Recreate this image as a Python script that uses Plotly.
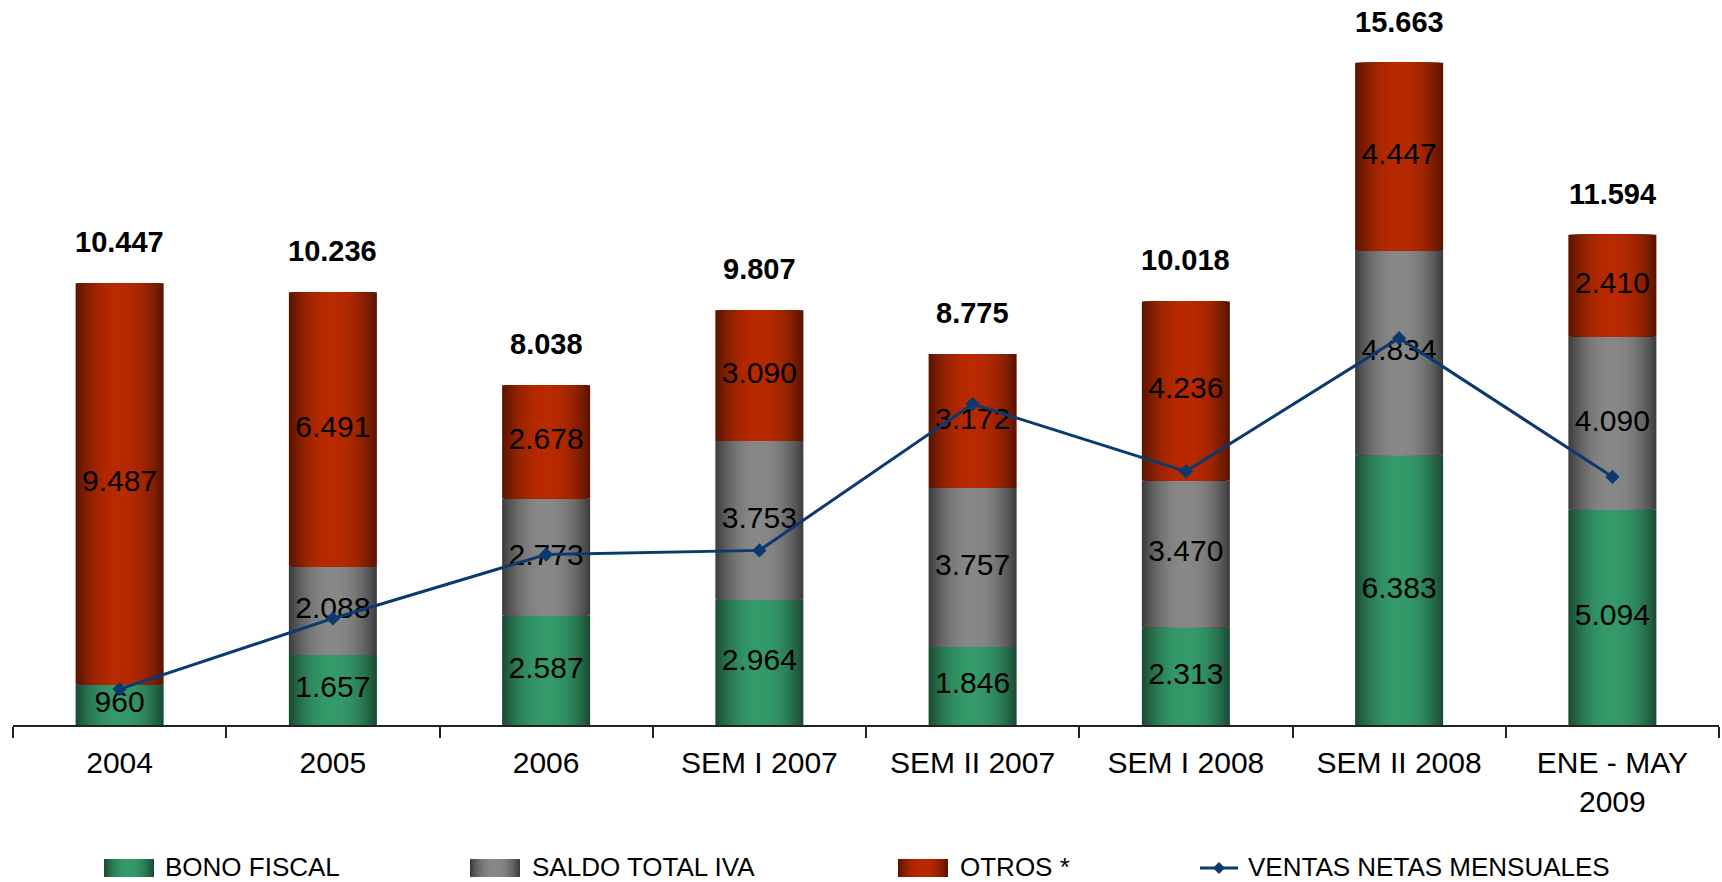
import plotly.graph_objects as go

# ---------------- data ----------------
categories = ["2004", "2005", "2006", "SEM I 2007", "SEM II 2007",
              "SEM I 2008", "SEM II 2008", "ENE - MAY<br>2009"]
bono_fiscal = [960, 1657, 2587, 2964, 1846, 2313, 6383, 5094]
saldo_total_iva = [0, 2088, 2773, 3753, 3757, 3470, 4834, 4090]
otros = [9487, 6491, 2678, 3090, 3172, 4236, 4447, 2410]
totales = [10447, 10236, 8038, 9807, 8775, 10018, 15663, 11594]
ventas_netas_mensuales = [850, 2520, 4030, 4130, 7590, 6000, 9150, 5870]

series_names = ["BONO FISCAL", "SALDO TOTAL IVA", "OTROS *"]
line_name = "VENTAS NETAS MENSUALES"

# ---------------- style ----------------
FONT = "Liberation Sans, Arial, sans-serif"
EDGE = [(26, 72, 50), (58, 58, 58), (85, 20, 0)]
CENTER = [(52, 154, 106), (136, 136, 136), (184, 42, 0)]
LINE_COLOR = "#0b3a6e"
BAR_W = 0.4127
N_STRIPS = 24
Y_MAX = 16911

W_PX, H_PX = 1722, 882
M_L, M_R, M_T, M_B = 13, 3, 10, 157
PLOT_W = W_PX - M_L - M_R
PLOT_H = H_PX - M_T - M_B


def shade(edge, center, r):
    f = r ** 2.2
    return "rgb(%d,%d,%d)" % tuple(round(c + (e - c) * f) for e, c in zip(edge, center))


def fmt(v):
    return f"{v:,}".replace(",", ".")


def px_x(px):
    return (px - M_L) / PLOT_W


def px_y(py):
    return (H_PX - M_B - py) / PLOT_H


fig = go.Figure()

series_values = [bono_fiscal, saldo_total_iva, otros]
bases = [0] * len(categories)
for k, vals in enumerate(series_values):
    for j in range(N_STRIPS):
        s = 1 - j / N_STRIPS
        r = s - 0.5 / N_STRIPS
        fig.add_trace(go.Bar(
            x=categories, y=vals, base=bases, width=BAR_W * s,
            marker=dict(color=shade(EDGE[k], CENTER[k], r), line=dict(width=0)),
            name=series_names[k], showlegend=False, hoverinfo="skip"))
    mids = [b + v / 2 for b, v in zip(bases, vals)]
    fig.add_trace(go.Scatter(
        x=categories, y=mids, mode="text",
        text=[fmt(v) if v else "" for v in vals],
        textfont=dict(family=FONT, size=30, color="black"),
        showlegend=False, hoverinfo="skip"))
    bases = [b + v for b, v in zip(bases, vals)]

fig.add_trace(go.Scatter(
    x=categories, y=ventas_netas_mensuales, yaxis="y2", name=line_name,
    mode="lines+markers",
    line=dict(color=LINE_COLOR, width=3),
    marker=dict(symbol="diamond", size=11, color=LINE_COLOR),
    showlegend=False))

annotations = []
for i, t in enumerate(totales):
    annotations.append(dict(
        x=i, y=t, xref="x", yref="y", text="<b>" + fmt(t) + "</b>",
        showarrow=False, yanchor="middle", yshift=41,
        font=dict(family=FONT, size=29, color="black")))

# ---------------- legend (drawn manually to match swatch size) ----------------
shapes = []
leg_y = 867
sw_x = [104, 470, 898]
txt_x = [163, 530, 958]
for k in range(3):
    x0, x1 = sw_x[k], sw_x[k] + 50
    cx = (x0 + x1) / 2
    for j in range(N_STRIPS):
        s = 1 - j / N_STRIPS
        r = s - 0.5 / N_STRIPS
        half = 25 * s
        shapes.append(dict(type="rect", xref="paper", yref="paper",
                           x0=px_x(cx - half), x1=px_x(cx + half),
                           y0=px_y(877), y1=px_y(859),
                           line=dict(width=0),
                           fillcolor=shade(EDGE[k], CENTER[k], r)))
    annotations.append(dict(x=px_x(txt_x[k]), y=px_y(leg_y), xref="paper", yref="paper",
                            xanchor="left", yanchor="middle", showarrow=False,
                            text=series_names[k],
                            font=dict(family=FONT, size=26, color="black")))
shapes.append(dict(type="line", xref="paper", yref="paper",
                   x0=px_x(1200), x1=px_x(1238), y0=px_y(868), y1=px_y(868),
                   line=dict(color=LINE_COLOR, width=3)))
shapes.append(dict(type="path", xref="paper", yref="paper",
                   path="M {a},{m} L {b},{t} L {c},{m} L {b},{bt} Z".format(
                       a=px_x(1213), b=px_x(1219), c=px_x(1225),
                       m=px_y(868), t=px_y(862), bt=px_y(874)),
                   fillcolor=LINE_COLOR, line=dict(width=0)))
annotations.append(dict(x=px_x(1246), y=px_y(leg_y), xref="paper", yref="paper",
                        xanchor="left", yanchor="middle", showarrow=False,
                        text=line_name,
                        font=dict(family=FONT, size=26, color="black")))

fig.update_layout(
    width=W_PX, height=H_PX,
    margin=dict(l=M_L, r=M_R, t=M_T, b=M_B),
    paper_bgcolor="white", plot_bgcolor="white",
    barmode="overlay",
    separators=",.",
    showlegend=False,
    font=dict(family=FONT, color="black"),
    xaxis=dict(type="category", range=[-0.5, 7.5], tickson="boundaries",
               ticks="outside", ticklen=11, tickwidth=1.5, tickcolor="#222",
               showline=True, linecolor="#222", linewidth=1.5,
               showgrid=False, zeroline=False, ticklabelstandoff=10,
               tickfont=dict(family=FONT, size=30, color="black")),
    yaxis=dict(range=[0, Y_MAX], visible=False, showgrid=False, zeroline=False),
    yaxis2=dict(range=[0, Y_MAX], overlaying="y", visible=False,
                showgrid=False, zeroline=False),
    annotations=annotations,
    shapes=shapes,
)

fig.write_html("out.html", config={"displayModeBar": False},
               post_script="document.body.style.margin='0';document.body.style.overflow='hidden';")
